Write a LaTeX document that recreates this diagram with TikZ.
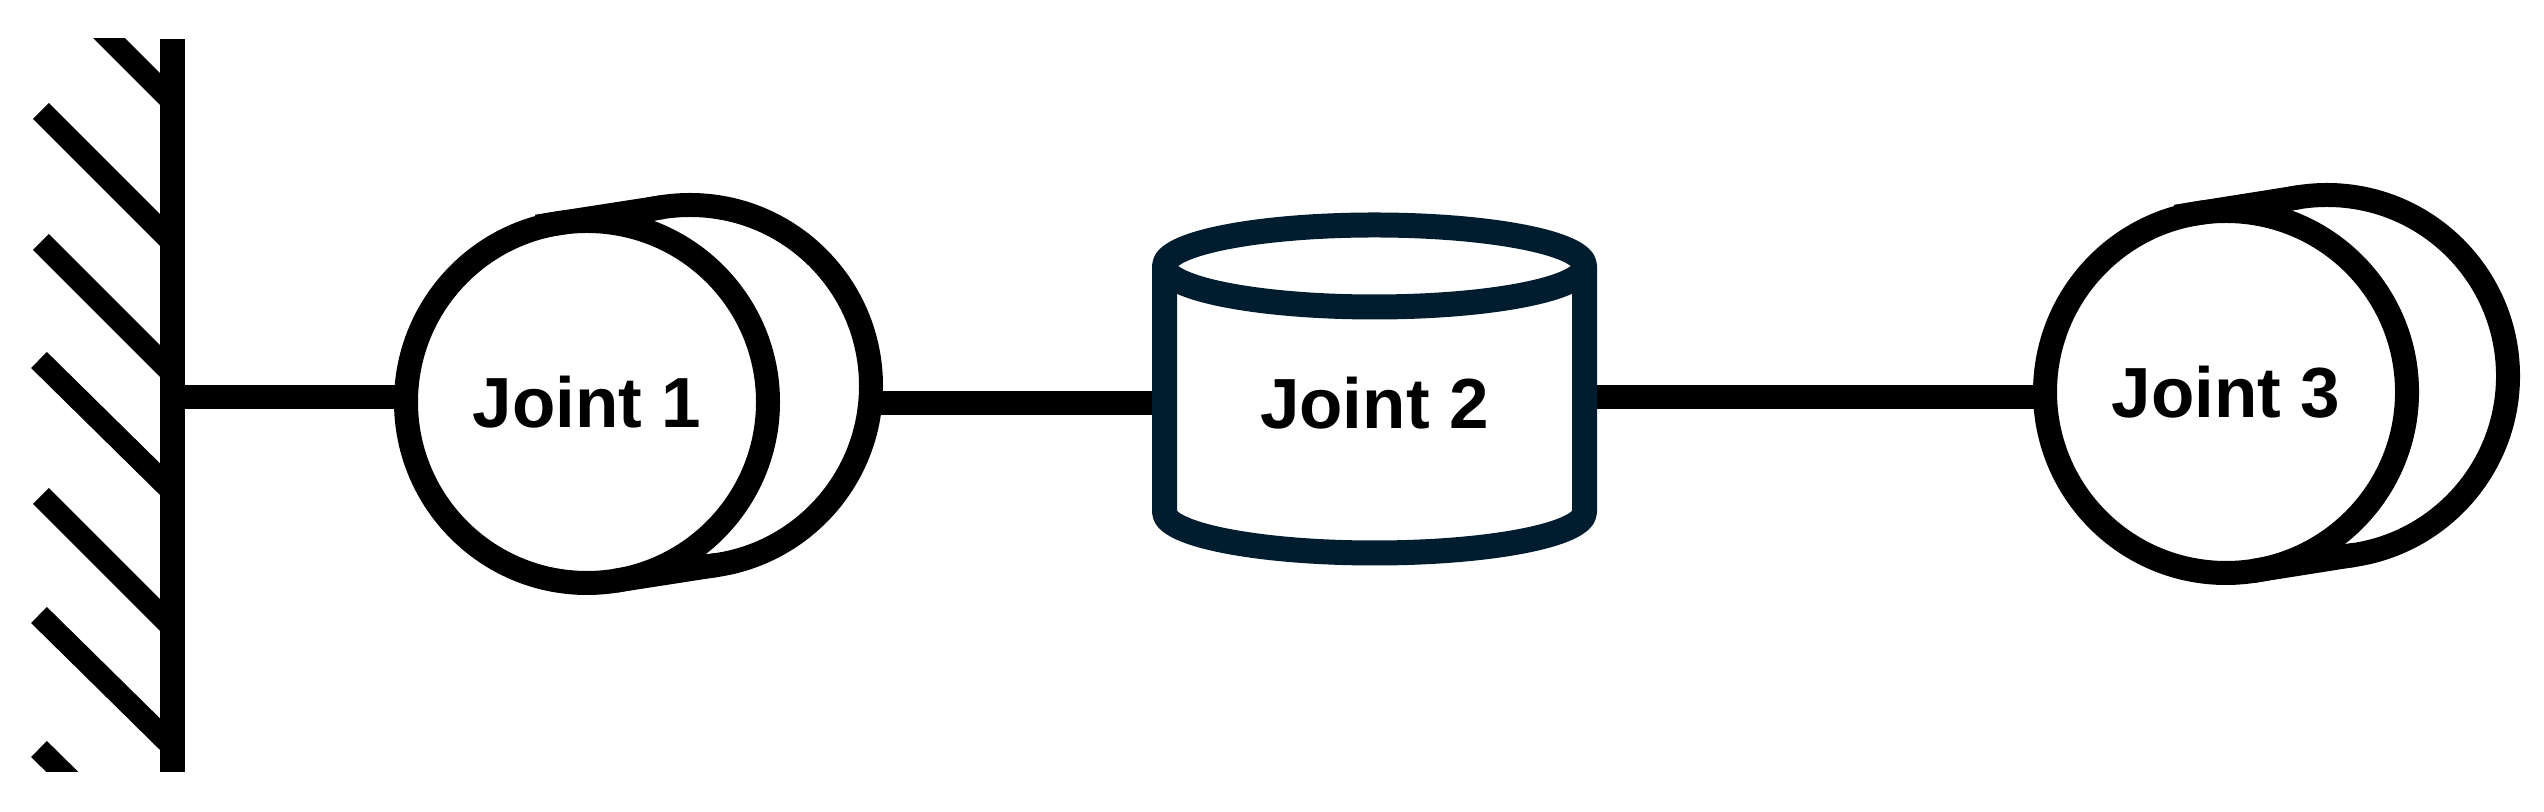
\documentclass[tikz,border=0pt]{standalone}
\usepackage{fontspec}
\setmainfont{Liberation Sans}
\definecolor{cylnavy}{HTML}{001D30}
\tikzset{
    linkline/.style={line width=0.24cm, black},
    hatchline/.style={line width=0.225cm, black},
    jointdisc/.style={circle, draw=black, line width=0.24cm, minimum size=3.62cm, inner sep=0pt, outer sep=0pt},
    jointlabel/.style={font=\fontsize{20.2pt}{24pt}\selectfont\bfseries, text=black}
}
\begin{document}
\begin{tikzpicture}[line join=round]
            \useasboundingbox (0,0) rectangle (25.44,8.12);
            % fixed wall
            \begin{scope}
                \clip (0,0.40) rectangle (2,7.73);
                \foreach \xa/\ya in {0.41/8.42, 0.41/7.01, 0.41/5.70, 0.39/4.52, 0.41/3.16, 0.39/1.97, 0.39/0.63}
                    \draw[hatchline] (\xa,\ya)--(1.72,\ya-1.31);
            \end{scope}
            \draw[line width=0.25cm] (1.72,0.40)--(1.72,7.73);
            \coordinate (wallbase) at (1.72,4.15);
            % revolute joints
            \foreach \n/\xa/\ya/\xb/\yb in {1/5.87/4.10/6.90/4.26, 3/22.26/4.20/23.27/4.36}{
                \node[jointdisc] (joint\n back) at (\xb,\yb) {};
                \node[jointdisc, fill=white, jointlabel] (joint\n) at (\xa,\ya) {Joint \n};
                \draw[linkline, shorten <=-0.22cm] (joint\n.99)--(joint\n back.99);
                \draw[linkline] (joint\n.-81)--(joint\n back.-81);
            }
            \node[minimum width=4.20cm, inner sep=0pt, outer sep=0pt, jointlabel] (joint2) at (13.745,4.09) {Joint 2};
            % links
            \draw[linkline] (wallbase)--(wallbase -| joint1.west);
            \draw[linkline] (joint2.west)--(joint2.west -| joint1back.east);
            \draw[linkline] (joint2.east |- wallbase)--(joint3.west |- wallbase);
            % prismatic joint
            \draw[line width=0.25cm, cylnavy] (13.745,5.46) ellipse (2.10 and 0.41);
            \draw[line width=0.25cm, cylnavy] (11.645,5.46)--(11.645,3.00) arc[start angle=180, end angle=360, x radius=2.10, y radius=0.41]--(15.845,5.46);
        \end{tikzpicture}
\end{document}
